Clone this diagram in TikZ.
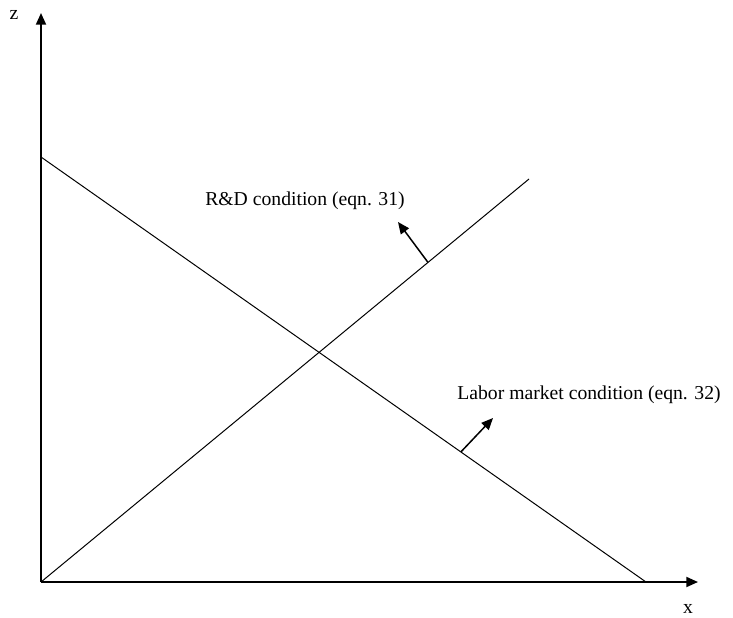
\documentclass[tikz,border=0pt]{standalone}
\usepackage{fontspec}
\setmainfont{Liberation Serif}
\usetikzlibrary{arrows.meta, positioning, calc}

\begin{document}
\begin{tikzpicture}[
    x=0.6pt, y=-0.6pt,
    font=\fontsize{11.8}{14}\selectfont,
    >={Triangle[length=7pt, width=6pt]},
    axis/.style={->, line width=1.1pt},
    curve/.style={line width=0.6pt},
    shiftarrow/.style={->, line width=0.9pt},
    lbl/.style={inner sep=0pt, align=center}
]
    \useasboundingbox (0,0) rectangle (733,617);

    % Axes
    \coordinate (O) at (41,582);
    \coordinate (zTop) at (41,13);
    \coordinate (xEnd) at (698,582);
    \draw[axis] (O) -- (zTop);
    \draw[axis] (O) -- (xEnd);
    \node[lbl] (zLbl) at (14,15) {z};
    \node[lbl] (xLbl) at (688,609) {x};

    % Curves
    \coordinate (LabTop) at (41,157);
    \coordinate (LabEnd) at (646,582);
    \coordinate (RDEnd) at (529,179);
    \draw[curve] (LabTop) -- coordinate[pos=0.694] (LabBase) (LabEnd);
    \draw[curve] (O) -- coordinate[pos=0.793] (RDBase) (RDEnd);

    % Shift arrows
    \coordinate (RDTip) at (398,222);
    \coordinate (LabTip) at (493,418);
    \draw[shiftarrow] (RDBase) -- (RDTip);
    \draw[shiftarrow] (LabBase) -- (LabTip);

    % Labels
    \node[lbl] (RDLbl) at (305,201) {R\&D condition (eqn. 31)};
    \node[lbl] (LabLbl) at (589,395) {Labor market condition (eqn. 32)};
\end{tikzpicture}
\end{document}
